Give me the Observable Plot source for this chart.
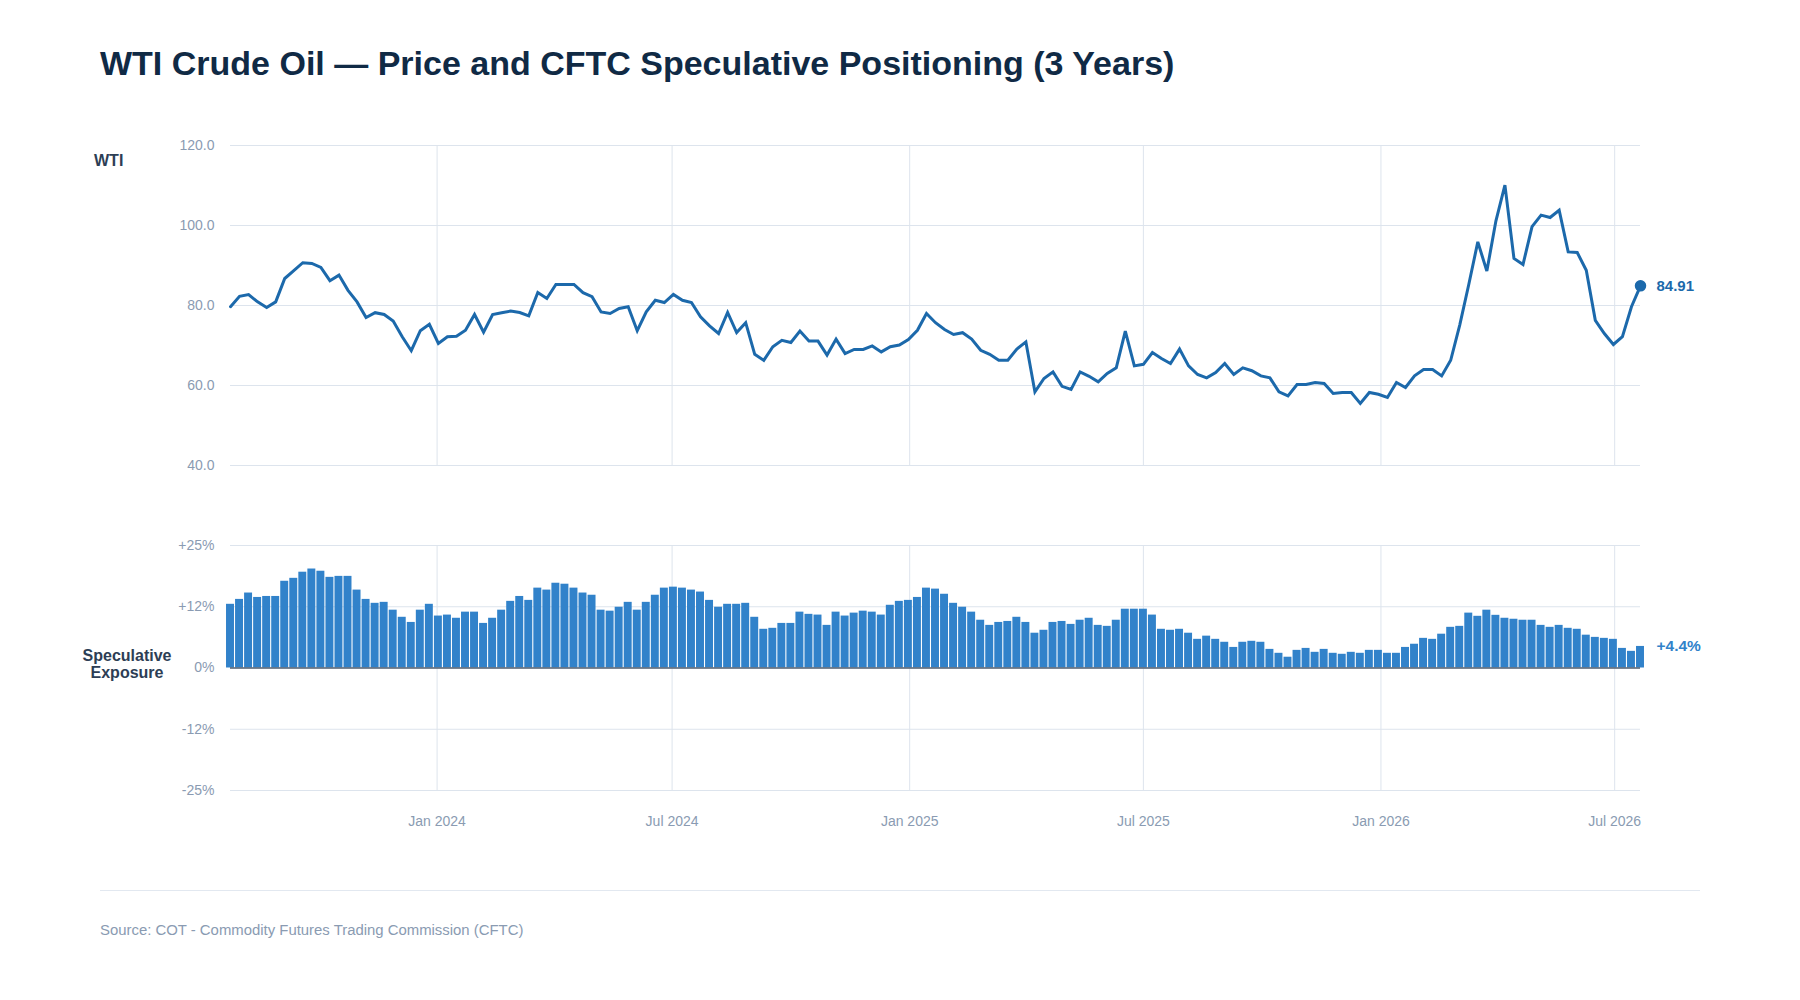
<!DOCTYPE html>
<html>
<head>
<meta charset="utf-8">
<script src="https://cdn.jsdelivr.net/npm/d3@7"></script>
<script src="https://cdn.jsdelivr.net/npm/@observablehq/plot@0.6"></script>
<style>
  html, body { margin: 0; padding: 0; background: #ffffff; width: 1800px; height: 1000px; overflow: hidden;
    font-family: "Liberation Sans", Arial, Helvetica, sans-serif; }
  #page { position: relative; width: 1800px; height: 1000px; }
  .abs { position: absolute; white-space: nowrap; }
  #title { left: 100px; top: 46px; font-size: 34px; line-height: 34px; font-weight: bold; color: #102a45; }
  #wtiLabel { left: 94px; top: 153px; font-size: 16px; line-height: 16px; font-weight: bold; color: #2d3e55; }
  #specLabel { left: 27px; width: 200px; top: 647px; font-size: 16px; line-height: 17px; font-weight: bold; color: #2d3e55; text-align: center; white-space: normal; }
  #sep { left: 100px; top: 890px; width: 1600px; height: 1px; background: #e2e8f0; }
  #source { left: 100px; top: 923px; font-size: 14.9px; line-height: 15px; color: #8a9bb2; }
  #top { left: 0; top: 120px; }
  #bottom { left: 0; top: 520px; }
</style>
</head>
<body>
<div id="page">
  <div id="title" class="abs">WTI Crude Oil — Price and CFTC Speculative Positioning (3 Years)</div>
  <div id="wtiLabel" class="abs">WTI</div>
  <div id="specLabel" class="abs">Speculative<br>Exposure</div>
  <div id="top" class="abs"></div>
  <div id="bottom" class="abs"></div>
  <div id="sep" class="abs"></div>
  <div id="source" class="abs">Source: COT - Commodity Futures Trading Commission (CFTC)</div>
</div>
<script>
// ---- data (weekly COT Tuesdays) ----
const startDate = "2023-07-25";
const endDate = "2026-07-21";

const wtiPrice = [
  79.7, 82.3, 82.75, 80.9, 79.5, 80.9, 86.75, 88.7, 90.7, 90.5,
  89.5, 86.2, 87.6, 83.8, 80.9, 77.0, 78.2, 77.75, 76.1, 72.2,
  68.7, 73.7, 75.3, 70.5, 72.2, 72.3, 73.8, 77.75, 73.3, 77.75,
  78.2, 78.6, 78.25, 77.4, 83.25, 81.75, 85.25, 85.25, 85.25, 83.2,
  82.2, 78.4, 78.0, 79.25, 79.7, 73.7, 78.4, 81.3, 80.75, 82.75,
  81.3, 80.75, 77.2, 74.9, 73.0, 78.25, 73.25, 75.7, 67.8, 66.3,
  69.7, 71.3, 70.75, 73.6, 71.1, 71.1, 67.6, 71.6, 68.0, 69.0,
  69.0, 69.9, 68.4, 69.7, 70.1, 71.5, 73.8, 78.0, 75.7, 74.0,
  72.75, 73.2, 71.6, 68.8, 67.8, 66.3, 66.3, 69.1, 70.9, 58.4,
  61.75, 63.4, 59.8, 59.0, 63.4, 62.3, 60.9, 63.0, 64.4, 73.6,
  64.9, 65.3, 68.25, 66.75, 65.5, 69.1, 64.9, 62.75, 61.9, 63.25,
  65.5, 62.75, 64.4, 63.7, 62.4, 61.9, 58.4, 57.4, 60.25, 60.25,
  60.75, 60.5, 58.0, 58.25, 58.25, 55.5, 58.25, 57.8, 57.0, 60.75,
  59.5, 62.4, 64.0, 64.0, 62.4, 66.3, 75.1, 85.25, 95.9, 88.6,
  101.1, 110.1, 91.75, 90.25, 99.7, 102.6, 102.0, 103.8, 93.4, 93.25,
  88.8, 76.3, 73.0, 70.25, 72.2, 79.7, 84.91
];

const specExposure = [
  13.0, 14.0, 15.3, 14.4, 14.6, 14.6, 17.7, 18.3, 19.55, 20.2,
  19.75, 18.5, 18.7, 18.7, 15.9, 14.0, 13.2, 13.4, 11.8, 10.35,
  9.3, 11.8, 13.0, 10.6, 10.8, 10.15, 11.4, 11.4, 9.1, 10.15,
  11.8, 13.6, 14.6, 13.8, 16.3, 15.9, 17.3, 17.1, 16.3, 15.3,
  14.85, 11.8, 11.6, 12.4, 13.4, 11.8, 13.4, 14.85, 16.3, 16.5,
  16.3, 15.9, 15.5, 13.8, 12.4, 13.0, 13.0, 13.2, 10.35, 7.9,
  8.1, 9.1, 9.1, 11.4, 10.95, 10.8, 8.7, 11.4, 10.6, 11.2,
  11.6, 11.4, 10.8, 12.8, 13.6, 13.8, 14.4, 16.3, 16.1, 15.05,
  13.2, 12.4, 11.4, 9.75, 8.7, 9.3, 9.5, 10.35, 9.3, 7.1,
  7.7, 9.3, 9.5, 8.9, 9.75, 10.15, 8.7, 8.5, 9.75, 12.0,
  12.0, 12.0, 10.8, 7.9, 7.7, 7.9, 7.1, 5.85, 6.5, 5.85,
  5.25, 4.2, 5.25, 5.45, 5.25, 3.8, 3.0, 2.2, 3.6, 4.0,
  3.2, 3.8, 3.0, 2.8, 3.2, 3.0, 3.6, 3.6, 3.0, 3.0,
  4.2, 4.85, 6.05, 5.85, 6.9, 8.3, 8.5, 11.2, 10.55, 11.8,
  10.75, 10.15, 9.95, 9.75, 9.75, 8.7, 8.3, 8.7, 8.1, 7.9,
  6.7, 6.25, 6.05, 5.85, 4.0, 3.4, 4.4
];

const xTickDates = ["2024-01-01", "2024-07-01", "2025-01-01", "2025-07-01", "2026-01-01", "2026-07-01"];
const wtiTicks = [40, 60, 80, 100, 120];
const specTicks = [-25, -12.5, 0, 12.5, 25];
const specTickLabels = ["-25%", "-12%", "0%", "+12%", "+25%"];

// ---- build table ----
const dates = d3.utcTuesday.range(new Date(startDate), d3.utcDay.offset(new Date(endDate), 1));
const data = dates.map((date, i) => ({ date, wti: wtiPrice[i], spec: specExposure[i] }));
const last = data[data.length - 1];
const xTicks = xTickDates.map(s => new Date(s));
const xDomain = [data[0].date, last.date];

const lineColor = "#1c69ab";
const barColor = "#3182ca";
const gridColor = "#dde4ed";
const font = '"Liberation Sans", Arial, Helvetica, sans-serif';
const baseStyle = { fontFamily: font, fontSize: "14px", color: "#8a9bb2", background: "transparent", overflow: "visible" };

const topPlot = Plot.plot({
  width: 1800, height: 350,
  marginLeft: 230, marginRight: 160, marginTop: 25, marginBottom: 5,
  style: baseStyle,
  x: { type: "utc", domain: xDomain, axis: null },
  y: { domain: [40, 120], ticks: wtiTicks, tickFormat: d => d.toFixed(1), tickSize: 0, tickPadding: 16, label: null },
  marks: [
    Plot.ruleY(wtiTicks, { stroke: gridColor, strokeWidth: 1 }),
    Plot.ruleX(xTicks, { stroke: gridColor, strokeWidth: 1 }),
    Plot.line(data, { x: "date", y: "wti", stroke: lineColor, strokeWidth: 3, strokeLinejoin: "miter", strokeMiterlimit: 3 }),
    Plot.dot([last], { x: "date", y: "wti", r: 5, fill: lineColor, stroke: lineColor }),
    Plot.text([last], { x: "date", y: "wti", text: d => d.wti.toFixed(2), dx: 16, textAnchor: "start",
      fill: lineColor, fontWeight: "bold", fontSize: 15 })
  ]
});
document.getElementById("top").appendChild(topPlot);

const bottomPlot = Plot.plot({
  width: 1800, height: 330,
  marginLeft: 230, marginRight: 160, marginTop: 25, marginBottom: 60,
  style: baseStyle,
  x: { type: "utc", domain: xDomain, ticks: xTicks, tickFormat: d3.utcFormat("%b %Y"), tickSize: 0, tickPadding: 26, label: null },
  y: { domain: [-25, 25], ticks: specTicks, tickFormat: d => specTickLabels[specTicks.indexOf(d)], tickSize: 0, tickPadding: 16, label: null },
  marks: [
    Plot.ruleY(specTicks, { stroke: gridColor, strokeWidth: 1 }),
    Plot.ruleX(xTicks, { stroke: gridColor, strokeWidth: 1 }),
    Plot.rect(data, {
      x1: d => d3.utcHour.offset(d.date, -74),
      x2: d => d3.utcHour.offset(d.date, 74),
      y1: 0, y2: "spec", fill: barColor
    }),
    Plot.ruleY([0], { stroke: "#556070", strokeWidth: 1.5 }),
    Plot.text([last], { x: "date", y: "spec", text: d => "+" + d.spec.toFixed(1) + "%", dx: 16, textAnchor: "start",
      fill: barColor, fontWeight: "bold", fontSize: 15.5 })
  ]
});
document.getElementById("bottom").appendChild(bottomPlot);
</script>
</body>
</html>
